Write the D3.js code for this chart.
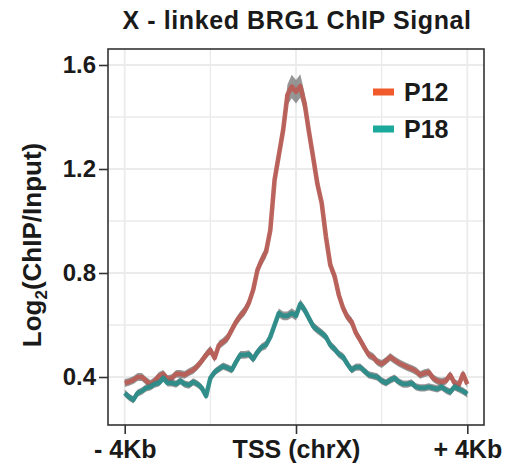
<!DOCTYPE html>
<html>
<head>
<meta charset="utf-8">
<script src="https://cdn.jsdelivr.net/npm/d3@7"></script>
<style>
  body { margin: 0; background: #fff; }
  text { font-family: "Liberation Sans", Arial, sans-serif; font-weight: bold; fill: #1a1a1a; }
</style>
</head>
<body>
<svg id="chart" width="518" height="473"></svg>
<script>
const width = 518;
const height = 473;

// distance to TSS in bp, every 100 bp
const positions = d3.range(-4000, 4001, 100);

// log2(ChIP/Input)
const p12 = [
  0.377, 0.381, 0.388, 0.400, 0.400, 0.385, 0.373, 0.385, 0.404, 0.412,
  0.392, 0.396, 0.412, 0.412, 0.408, 0.419, 0.427, 0.442, 0.462, 0.485,
  0.504, 0.473, 0.523, 0.535, 0.550, 0.581, 0.612, 0.635, 0.654, 0.685,
  0.735, 0.812, 0.850, 0.881, 0.965, 1.158, 1.254, 1.350, 1.485, 1.517,
  1.497, 1.519, 1.454, 1.346, 1.246, 1.142, 1.069, 0.938, 0.831, 0.788,
  0.715, 0.665, 0.631, 0.612, 0.569, 0.542, 0.512, 0.485, 0.477, 0.458,
  0.450, 0.462, 0.477, 0.465, 0.454, 0.446, 0.438, 0.431, 0.423, 0.408,
  0.415, 0.419, 0.396, 0.385, 0.381, 0.385, 0.408, 0.377, 0.369, 0.412,
  0.373
];
const p18 = [
  0.338, 0.323, 0.312, 0.338, 0.346, 0.358, 0.362, 0.373, 0.377, 0.396,
  0.377, 0.377, 0.373, 0.385, 0.373, 0.369, 0.381, 0.373, 0.358, 0.327,
  0.396, 0.419, 0.431, 0.442, 0.435, 0.427, 0.458, 0.485, 0.485, 0.488,
  0.469, 0.496, 0.515, 0.523, 0.554, 0.600, 0.646, 0.635, 0.635, 0.646,
  0.635, 0.681, 0.658, 0.627, 0.596, 0.581, 0.569, 0.554, 0.523, 0.508,
  0.488, 0.477, 0.450, 0.427, 0.438, 0.438, 0.423, 0.408, 0.404, 0.400,
  0.385, 0.377, 0.388, 0.396, 0.381, 0.373, 0.373, 0.377, 0.362, 0.358,
  0.358, 0.362, 0.358, 0.354, 0.362, 0.350, 0.342, 0.362, 0.354, 0.346,
  0.335
];
// standard error band half-widths
const seP12 = [
  0.015, 0.015, 0.015, 0.015, 0.015, 0.015, 0.015, 0.015, 0.015, 0.015,
  0.015, 0.015, 0.015, 0.015, 0.015, 0.015, 0.015, 0.015, 0.015, 0.016,
  0.016, 0.016, 0.016, 0.016, 0.017, 0.017, 0.017, 0.018, 0.018, 0.019,
  0.019, 0.020, 0.021, 0.023, 0.025, 0.027, 0.029, 0.033, 0.040, 0.045,
  0.045, 0.045, 0.038, 0.031, 0.027, 0.025, 0.023, 0.023, 0.021, 0.020,
  0.019, 0.018, 0.017, 0.017, 0.016, 0.016, 0.016, 0.016, 0.015, 0.015,
  0.015, 0.015, 0.015, 0.015, 0.015, 0.015, 0.015, 0.015, 0.015, 0.015,
  0.015, 0.015, 0.015, 0.015, 0.015, 0.015, 0.015, 0.015, 0.015, 0.015,
  0.015
];
const seP18 = [
  0.014, 0.014, 0.014, 0.014, 0.014, 0.014, 0.014, 0.014, 0.014, 0.014,
  0.014, 0.014, 0.014, 0.014, 0.014, 0.014, 0.014, 0.014, 0.014, 0.014,
  0.014, 0.014, 0.014, 0.014, 0.014, 0.014, 0.015, 0.015, 0.015, 0.015,
  0.015, 0.015, 0.015, 0.016, 0.016, 0.016, 0.017, 0.017, 0.017, 0.018,
  0.018, 0.018, 0.017, 0.017, 0.016, 0.016, 0.016, 0.015, 0.015, 0.015,
  0.015, 0.015, 0.014, 0.014, 0.014, 0.014, 0.014, 0.014, 0.014, 0.014,
  0.014, 0.014, 0.014, 0.014, 0.014, 0.014, 0.014, 0.014, 0.014, 0.014,
  0.014, 0.014, 0.014, 0.014, 0.014, 0.014, 0.014, 0.014, 0.014, 0.014,
  0.014
];

const seriesNames = ["P12", "P18"];
const yTicks = [0.4, 0.8, 1.2, 1.6];
const yMinor = [0.6, 1.0, 1.4];
const xTicks = [-4000, 0, 4000];
const xMinor = [-2000, 2000];
const xTickLabels = ["- 4Kb", "TSS (chrX)", "+ 4Kb"];

const legendColors = { P12: "#f15a2a", P18: "#1aa99b" };
const lineColors = { P12: "#b85e56", P18: "#2b8c89" };

// panel box
const panel = { left: 108, right: 484, top: 49, bottom: 425 };

const svg = d3.select("#chart");

const x = d3.scaleLinear()
    .domain([-4390, 4390])
    .range([panel.left, panel.right]);

const y = d3.scaleLinear()
    .domain([0.2154, 1.6615])
    .range([panel.bottom, panel.top]);

// grid lines (ggplot-like light grey)
const grid = svg.append("g");
grid.selectAll(".hgrid")
    .data(yTicks.concat(yMinor))
    .join("line")
    .attr("x1", panel.left).attr("x2", panel.right)
    .attr("y1", d => y(d)).attr("y2", d => y(d))
    .attr("stroke", "#ebebeb")
    .attr("stroke-width", d => yTicks.includes(d) ? 1.8 : 1.4);
grid.selectAll(".vgrid")
    .data(xTicks.concat(xMinor))
    .join("line")
    .attr("y1", panel.top).attr("y2", panel.bottom)
    .attr("x1", d => x(d)).attr("x2", d => x(d))
    .attr("stroke", "#ebebeb")
    .attr("stroke-width", d => xTicks.includes(d) ? 1.8 : 1.4);

// build series
const series = [
  { name: "P12", values: p12, se: seP12 },
  { name: "P18", values: p18, se: seP18 }
].map(s => ({
  name: s.name,
  points: positions.map((p, i) => ({ pos: p, v: s.values[i], se: s.se[i] }))
}));

const area = d3.area()
    .x(d => x(d.pos))
    .y0(d => y(d.v - d.se))
    .y1(d => y(d.v + d.se));

const line = d3.line()
    .x(d => x(d.pos))
    .y(d => y(d.v));

const plot = svg.append("g");

series.forEach(s => {
  plot.append("path")
      .datum(s.points)
      .attr("d", area)
      .attr("fill", "#6a6a6a")
      .attr("fill-opacity", 0.7);
  plot.append("path")
      .datum(s.points)
      .attr("d", line)
      .attr("fill", "none")
      .attr("stroke", lineColors[s.name])
      .attr("stroke-width", 4.6)
      .attr("stroke-linejoin", "round")
      .attr("stroke-opacity", 0.95);
});

// panel border
svg.append("rect")
    .attr("x", panel.left).attr("y", panel.top)
    .attr("width", panel.right - panel.left)
    .attr("height", panel.bottom - panel.top)
    .attr("fill", "none")
    .attr("stroke", "#333")
    .attr("stroke-width", 1.6);

// y axis
const yAxis = svg.append("g")
    .attr("transform", `translate(${panel.left},0)`)
    .call(d3.axisLeft(y).tickValues(yTicks).tickFormat(d3.format(".1f")).tickSize(9).tickPadding(3));
yAxis.select(".domain").remove();
yAxis.selectAll("line").attr("stroke", "#333").attr("stroke-width", 1.6);
yAxis.selectAll("text")
    .attr("font-size", 24)
    .attr("font-family", "Liberation Sans, Arial, sans-serif")
    .attr("font-weight", "bold")
    .attr("fill", "#1a1a1a");

// x axis
const xAxis = svg.append("g")
    .attr("transform", `translate(0,${panel.bottom})`)
    .call(d3.axisBottom(x).tickValues(xTicks).tickFormat((d, i) => xTickLabels[i]).tickSize(9).tickPadding(6));
xAxis.select(".domain").remove();
xAxis.selectAll("line").attr("stroke", "#333").attr("stroke-width", 1.6);
xAxis.selectAll("text")
    .attr("font-size", 25)
    .attr("font-family", "Liberation Sans, Arial, sans-serif")
    .attr("font-weight", "bold")
    .attr("fill", "#1a1a1a");

// title
svg.append("text")
    .attr("x", (panel.left + panel.right) / 2 + 1)
    .attr("y", 29)
    .attr("text-anchor", "middle")
    .attr("font-size", 25)
    .attr("letter-spacing", 0.6)
    .text("X - linked BRG1 ChIP Signal");

// y axis title with subscript
const yTitle = svg.append("text")
    .attr("transform", `translate(41,245) rotate(-90)`)
    .attr("text-anchor", "middle")
    .attr("font-size", 26);
yTitle.append("tspan").text("Log");
yTitle.append("tspan").attr("font-size", 17).attr("dy", 6).text("2");
yTitle.append("tspan").attr("dy", -6).text("(ChIP/Input)");

// legend
const legend = svg.append("g");
seriesNames.forEach((name, i) => {
  const ly = 92 + i * 37;
  legend.append("rect")
      .attr("x", 373).attr("y", ly - 3.5)
      .attr("width", 21).attr("height", 7)
      .attr("fill", legendColors[name]);
  legend.append("text")
      .attr("x", 404).attr("y", ly + 9)
      .attr("font-size", 25)
      .text(name);
});
</script>
</body>
</html>
